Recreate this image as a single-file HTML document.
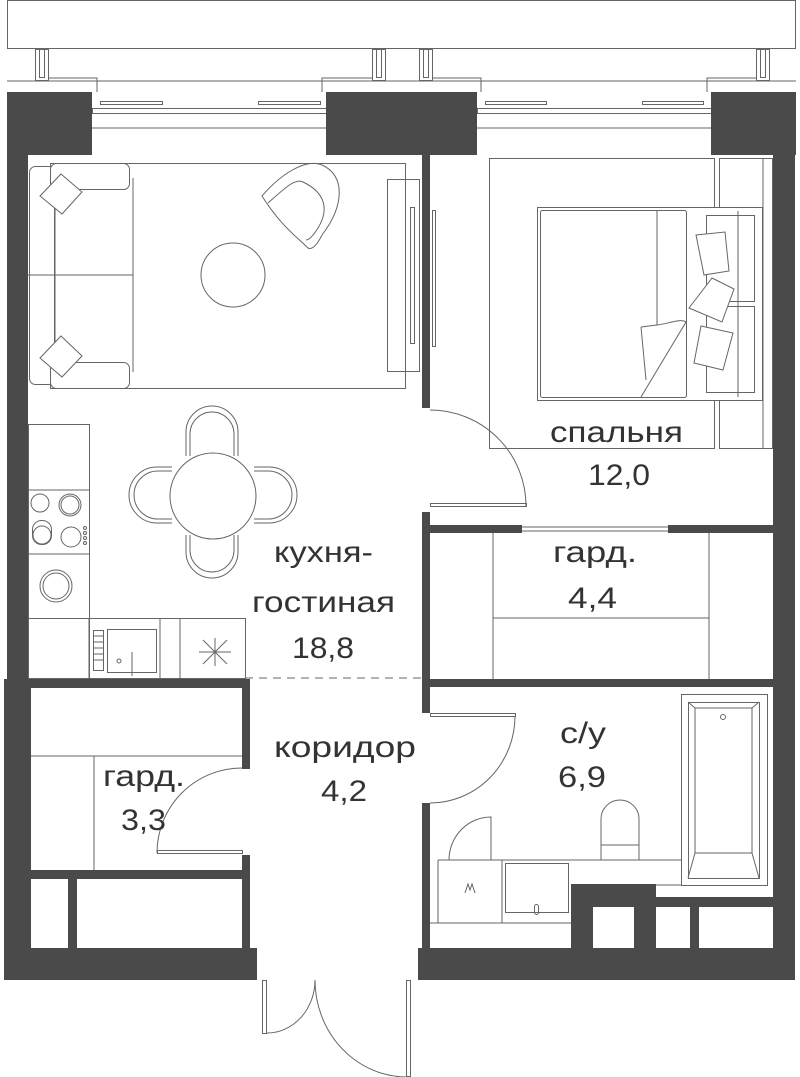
<!DOCTYPE html>
<html><head><meta charset="utf-8"><style>
html,body{margin:0;padding:0;background:#fff;}
svg{display:block;}
text{font-family:"Liberation Sans",sans-serif;fill:#333;font-size:30px;}
</style></head><body>
<svg width="800" height="1077" viewBox="0 0 800 1077" xmlns="http://www.w3.org/2000/svg">
<g fill="none" stroke="#666" stroke-width="1">
<!-- top balcony -->
<rect x="7.5" y="0.5" width="788" height="48"/>
<line x1="7" y1="81" x2="796" y2="81"/>
<rect x="35.5" y="49.5" width="13" height="31"/><rect x="39.5" y="49.5" width="5" height="28"/>
<rect x="372.5" y="49.5" width="13" height="31"/><rect x="376.5" y="49.5" width="5" height="28"/>
<rect x="419.5" y="49.5" width="13" height="31"/><rect x="423.5" y="49.5" width="5" height="28"/>
<rect x="756.5" y="49.5" width="13" height="31"/><rect x="760.5" y="49.5" width="5" height="28"/>
<polyline points="48,78 97,78 97,92"/><polyline points="372,78 322,78 322,92"/>
<polyline points="432,78 481,78 481,92"/><polyline points="756,78 707,78 707,92"/>
<rect x="100.5" y="101.5" width="62" height="3"/><rect x="258.5" y="101.5" width="62" height="3"/>
<rect x="485.5" y="101.5" width="61" height="3"/><rect x="642.5" y="101.5" width="61" height="3"/>
<rect x="92.5" y="108.5" width="234" height="5"/><rect x="477.5" y="108.5" width="234" height="5"/>
<line x1="92" y1="128" x2="326" y2="128"/><line x1="477" y1="128" x2="711" y2="128"/>
</g>
<g fill="#4a4a4a">
<rect x="7" y="92" width="85" height="63"/>
<rect x="326" y="92" width="151" height="63"/>
<rect x="711" y="92" width="85" height="63"/>
<rect x="7" y="92" width="21" height="856"/>
<rect x="773" y="92" width="22" height="856"/>
<rect x="422" y="155" width="8" height="253"/>
<rect x="422" y="512" width="8" height="167"/>
<rect x="430" y="525" width="92" height="8"/>
<rect x="668" y="525" width="105" height="8"/>
<rect x="4" y="679" width="246" height="9"/>
<rect x="422" y="679" width="351" height="8"/>
<rect x="242" y="688" width="8" height="81"/>
<rect x="242" y="855" width="8" height="93"/>
<rect x="422" y="679" width="8" height="34"/>
<rect x="422" y="803" width="8" height="145"/>
<rect x="4" y="679" width="27" height="270"/>
<rect x="31" y="870" width="211" height="9"/>
<rect x="68" y="879" width="9" height="69"/>
<rect x="4" y="948" width="253" height="32"/>
<rect x="418" y="948" width="377" height="32"/>
<rect x="571" y="884" width="85" height="64"/>
<rect x="656" y="897" width="117" height="10"/>
<rect x="690" y="907" width="9" height="41"/>
</g>
<rect x="593" y="907" width="41" height="41" fill="#fff"/>
<g fill="none" stroke="#666" stroke-width="1">
<!-- living -->
<rect x="50.5" y="163.5" width="355" height="225"/>
<rect x="29.5" y="166.5" width="25" height="218" rx="6" fill="#fff"/>
<line x1="55" y1="178" x2="55" y2="372"/>
<rect x="50.5" y="163.5" width="79" height="26" rx="6" fill="#fff"/>
<rect x="50.5" y="362.5" width="79" height="26" rx="6" fill="#fff"/>
<line x1="133" y1="178" x2="133" y2="372"/>
<line x1="28" y1="275" x2="133" y2="275"/>
<polygon points="61,174 82,192 62,214 40,196" fill="#fff"/>
<polygon points="61,336 82,356 62,377 40,358" fill="#fff"/>
<circle cx="233" cy="275" r="32"/>
<path d="M262,196 C280,175 305,158 322,165 C345,175 345,205 322,235 C317,245 312,250 308,248 C298,238 280,225 262,196 Z"/>
<path d="M268,203 C285,188 295,178 303,182 C320,190 332,205 318,228 C313,236 309,240 306,240"/>
<rect x="387.5" y="179.5" width="32" height="192"/>
<rect x="410.5" y="207.5" width="4" height="136"/>
<rect x="432.5" y="210.5" width="3" height="136"/>
<!-- bedroom -->
<rect x="489.5" y="158.5" width="225" height="290"/>
<rect x="719.5" y="158.5" width="53" height="290"/>
<line x1="763" y1="158" x2="763" y2="448"/>
<rect x="537.5" y="207.5" width="225" height="193" fill="#fff"/>
<rect x="540.5" y="210.5" width="146" height="187" rx="2"/>
<line x1="657" y1="210" x2="657" y2="325"/>
<path d="M641,327 L657,325 C668,324 680,318 686,322 L641,397"/>
<line x1="641" y1="327" x2="646" y2="380"/>
<rect x="706.5" y="215.5" width="48" height="86"/>
<rect x="706.5" y="306.5" width="48" height="86"/>
<line x1="738" y1="211" x2="738" y2="397"/>
<polygon points="696,235 725,232 729,271 704,275" fill="#fff"/>
<polygon points="712,278 734,289 722,322 689,308" fill="#fff"/>
<polygon points="701,326 733,333 723,370 694,363" fill="#fff"/>
<!-- door bedroom -->
<path d="M430,410 A96,96 0 0 1 526,506"/>
<rect x="430.5" y="503.5" width="96" height="3"/>
<!-- gard 4.4 -->
<line x1="522" y1="527" x2="668" y2="527"/><line x1="522" y1="531" x2="668" y2="531"/>
<line x1="493" y1="533" x2="493" y2="679"/>
<line x1="709" y1="533" x2="709" y2="679"/>
<line x1="493" y1="618" x2="709" y2="618"/>
<!-- dining -->
<path d="M186,456 L186,432 A26,26 0 0 1 238,432 L238,456"/>
<path d="M190,456 L190,434 A22,22 0 0 1 234,434 L234,456"/>
<path d="M186,535 L186,552 A26,26 0 0 0 238,552 L238,535"/>
<path d="M190,535 L190,550 A22,22 0 0 0 234,550 L234,535"/>
<path d="M172,467 L157,467 A28,28 0 0 0 157,523 L172,523"/>
<path d="M172,471 L158,471 A24,24 0 0 0 158,519 L172,519"/>
<path d="M254,467 L269,467 A28,28 0 0 1 269,523 L254,523"/>
<path d="M254,471 L268,471 A24,24 0 0 1 268,519 L254,519"/>
<circle cx="213" cy="496" r="43" fill="#fff"/>
<!-- kitchen -->
<rect x="28.5" y="424.5" width="61" height="254"/>
<line x1="28" y1="490" x2="89" y2="490"/><line x1="28" y1="554" x2="89" y2="554"/>
<rect x="28.5" y="618.5" width="217" height="60"/>
<line x1="89" y1="618" x2="89" y2="678"/><line x1="160" y1="618" x2="160" y2="678"/><line x1="180" y1="618" x2="180" y2="678"/>
<circle cx="40" cy="503" r="9"/><circle cx="70" cy="505" r="11"/><circle cx="70" cy="505" r="9"/>
<rect x="32.5" y="520.5" width="19" height="24" rx="9"/><circle cx="42" cy="535" r="9"/>
<circle cx="71" cy="537" r="10"/>
<circle cx="85" cy="528" r="1.5"/><circle cx="85" cy="533" r="1.5"/><circle cx="85" cy="538" r="1.5"/><circle cx="85" cy="543" r="1.5"/>
<circle cx="56" cy="586" r="16"/><circle cx="56" cy="586" r="13"/>
<rect x="93.5" y="630.5" width="10" height="40"/>
<line x1="94" y1="636" x2="103" y2="636"/><line x1="94" y1="642" x2="103" y2="642"/><line x1="94" y1="648" x2="103" y2="648"/><line x1="94" y1="654" x2="103" y2="654"/><line x1="94" y1="660" x2="103" y2="660"/>
<rect x="107.5" y="629.5" width="49" height="43"/>
<circle cx="119" cy="661" r="2"/><line x1="132" y1="652" x2="132" y2="676"/>
<line x1="203" y1="640" x2="227" y2="664"/><line x1="227" y1="640" x2="203" y2="664"/><line x1="215" y1="638" x2="215" y2="666"/><line x1="199" y1="652" x2="231" y2="652"/>
<line x1="245" y1="678" x2="422" y2="678" stroke-dasharray="8,6"/>
<!-- gard 3.3 -->
<line x1="31" y1="756" x2="242" y2="756"/>
<line x1="94" y1="756" x2="94" y2="870"/>
<path d="M242,768 A85,85 0 0 0 157,853"/>
<rect x="157.5" y="850.5" width="85" height="3"/>
<!-- corridor doors -->
<rect x="262.5" y="980.5" width="4" height="53"/>
<path d="M267,1033 A48,53 0 0 0 315,980"/>
<rect x="406.5" y="980.5" width="4" height="96"/>
<path d="M315,980 A92,97 0 0 0 407,1077"/>
<!-- bath door -->
<rect x="430.5" y="713.5" width="85" height="3"/>
<path d="M515,716 A85,87 0 0 1 430,803"/>
<!-- bathroom fixtures -->
<rect x="681.5" y="694.5" width="86" height="191"/>
<rect x="688.5" y="702.5" width="71" height="176"/>
<polyline points="688,702 695,708 752,708 759,702"/>
<polyline points="695,708 695,853 688,878"/><polyline points="752,708 752,853 759,878"/>
<line x1="695" y1="853" x2="752" y2="853"/>
<circle cx="723" cy="717" r="2.5"/>
<path d="M601,860 L601,819 A19,19 0 0 1 639,819 L639,860"/>
<line x1="601" y1="845" x2="639" y2="845"/>
<line x1="438" y1="860" x2="681" y2="860"/>
<line x1="438" y1="860" x2="438" y2="923"/>
<line x1="502" y1="860" x2="502" y2="923"/>
<rect x="505.5" y="863.5" width="63" height="49"/>
<line x1="430" y1="923" x2="571" y2="923"/>
<line x1="656" y1="885" x2="681" y2="885"/>
<path d="M491,860 L491,817 A42,43 0 0 0 449,860"/>
<path d="M465,893 L468,884 L470,890 L472,884 L475,893"/>
<rect x="534.5" y="904.5" width="4" height="10" rx="2"/>
</g>
<text x="550" y="442" textLength="133" lengthAdjust="spacingAndGlyphs">спальня</text>
<text x="588" y="485" textLength="62" lengthAdjust="spacingAndGlyphs">12,0</text>
<text x="553" y="562" textLength="84" lengthAdjust="spacingAndGlyphs">гард.</text>
<text x="568" y="608" textLength="49" lengthAdjust="spacingAndGlyphs">4,4</text>
<text x="274" y="562" textLength="99" lengthAdjust="spacingAndGlyphs">кухня-</text>
<text x="252" y="612" textLength="143" lengthAdjust="spacingAndGlyphs">гостиная</text>
<text x="292" y="658" textLength="62" lengthAdjust="spacingAndGlyphs">18,8</text>
<text x="274" y="757" textLength="142" lengthAdjust="spacingAndGlyphs">коридор</text>
<text x="321" y="801" textLength="46" lengthAdjust="spacingAndGlyphs">4,2</text>
<text x="103" y="786" textLength="82" lengthAdjust="spacingAndGlyphs">гард.</text>
<text x="121" y="830" textLength="45" lengthAdjust="spacingAndGlyphs">3,3</text>
<text x="560" y="743" textLength="46" lengthAdjust="spacingAndGlyphs">с/у</text>
<text x="558" y="787" textLength="48" lengthAdjust="spacingAndGlyphs">6,9</text>
</svg>
</body></html>
